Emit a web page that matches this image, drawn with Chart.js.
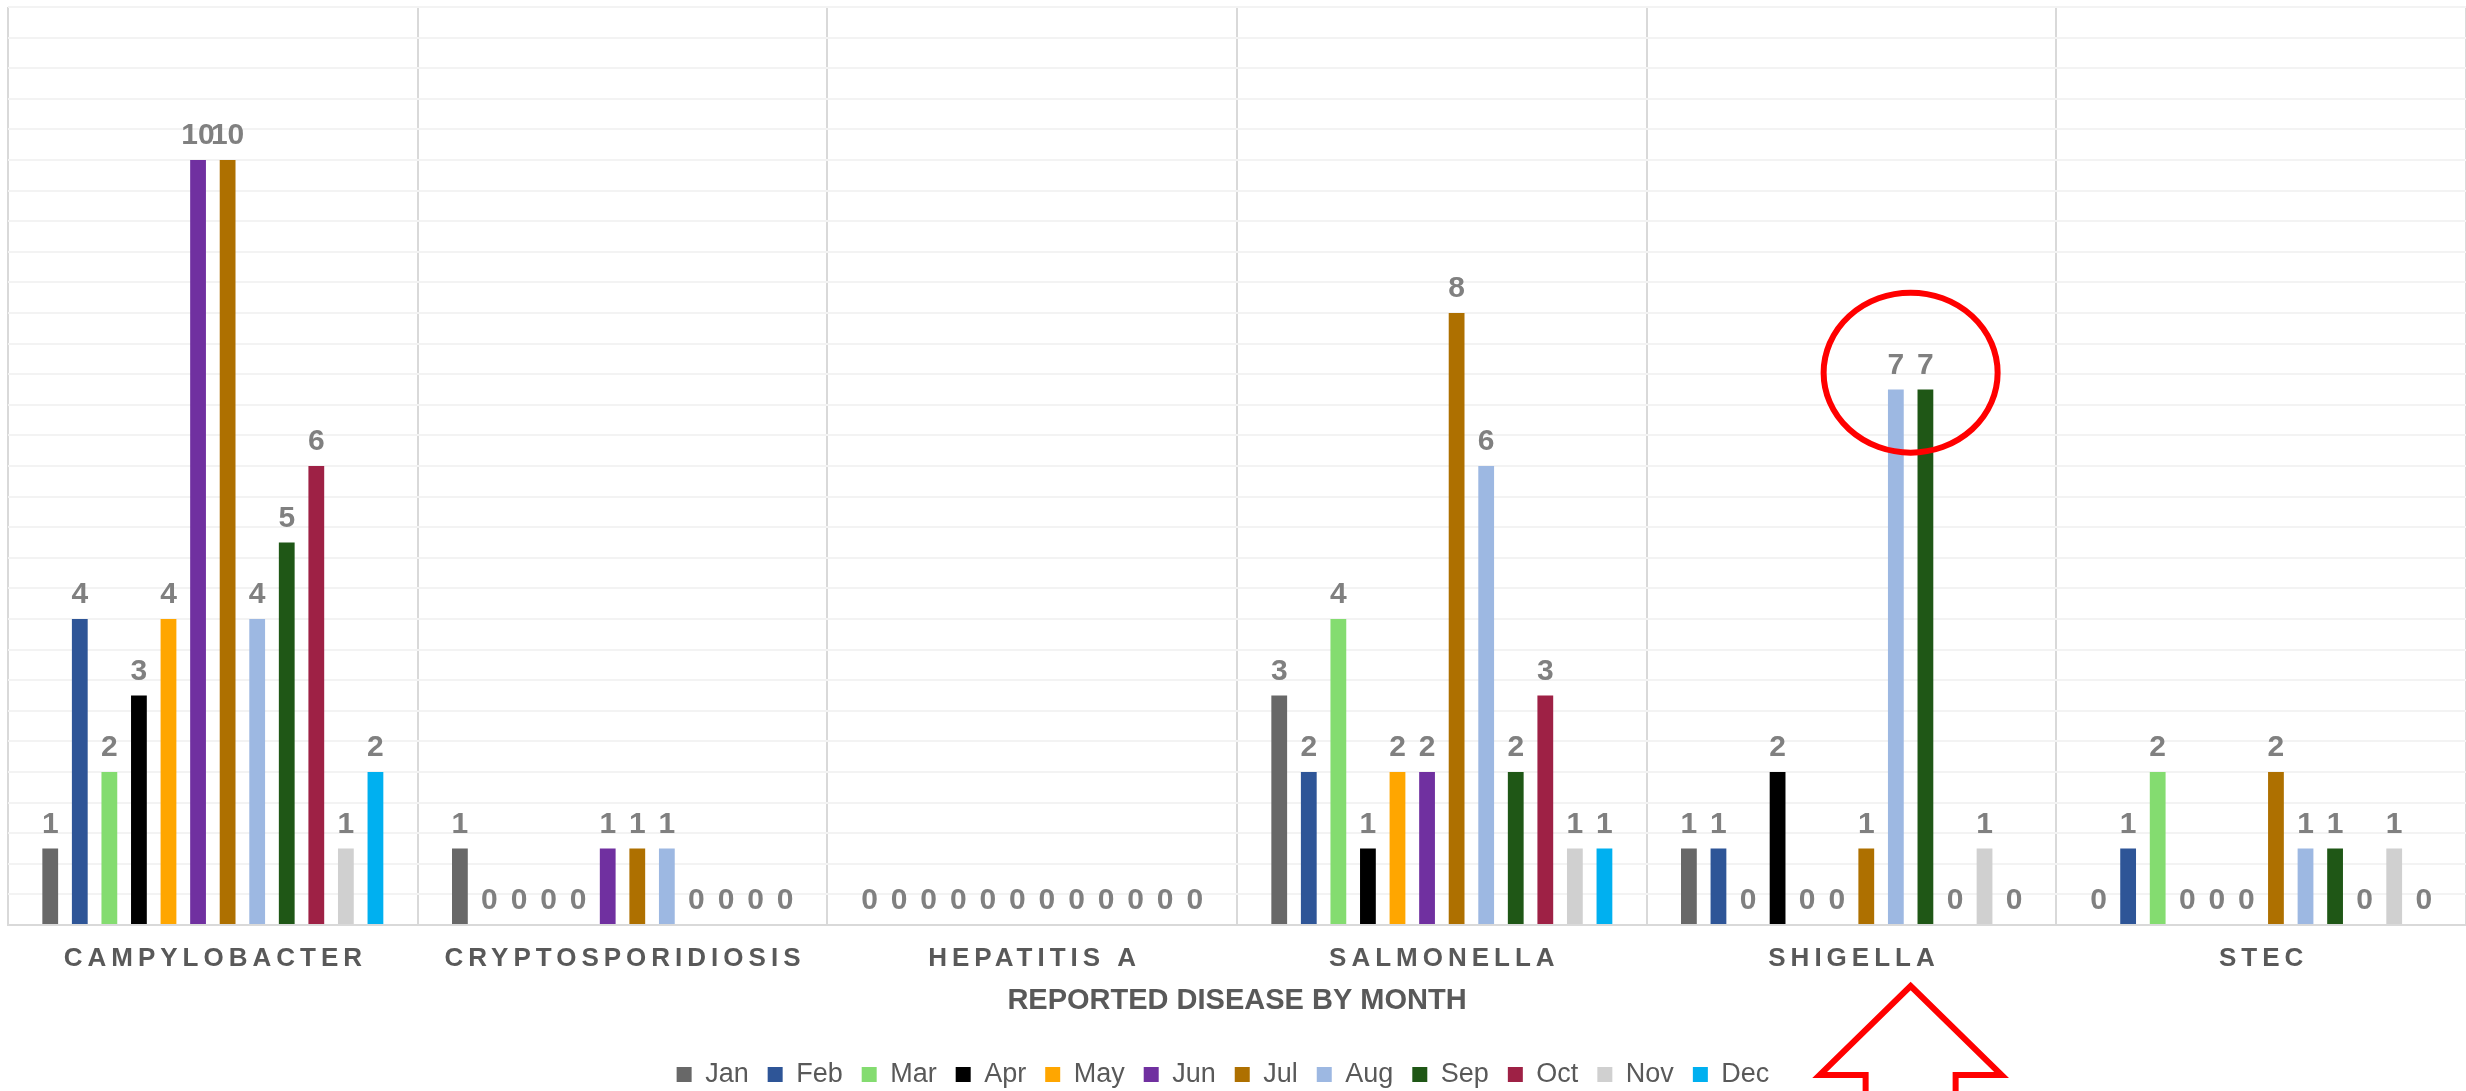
<!DOCTYPE html>
<html>
<head>
<meta charset="utf-8">
<script src="https://cdn.jsdelivr.net/npm/chart.js@4/dist/chart.umd.min.js"></script>
<style>
html,body{margin:0;padding:0;background:#fff;}
#wrap{width:2466px;height:1091px;position:relative;}
</style>
</head>
<body>
<div id="wrap"><canvas id="c" width="2466" height="1091"></canvas></div>
<script>
const categories = ['CAMPYLOBACTER','CRYPTOSPORIDIOSIS','HEPATITIS A','SALMONELLA','SHIGELLA','STEC'];
const months = ['Jan','Feb','Mar','Apr','May','Jun','Jul','Aug','Sep','Oct','Nov','Dec'];
const jan = [1,1,0,3,1,0];
const feb = [4,0,0,2,1,1];
const mar = [2,0,0,4,0,2];
const apr = [3,0,0,1,2,0];
const may = [4,0,0,2,0,0];
const jun = [10,1,0,2,0,0];
const jul = [10,1,0,8,1,2];
const aug = [4,1,0,6,7,1];
const sep = [5,0,0,2,7,1];
const oct = [6,0,0,3,0,0];
const nov = [1,0,0,1,1,1];
const dec = [2,0,0,1,0,0];
const seriesValues = [jan,feb,mar,apr,may,jun,jul,aug,sep,oct,nov,dec];
const monthColors = ['#686868','#2E5597','#84DC70','#000000','#FFA600','#7030A0','#AE7000','#9DB8E2','#1F5716','#9E2145','#D0D0D0','#00B0F0'];
const axisTitle = 'REPORTED DISEASE BY MONTH';

const FONT = "'Liberation Sans', Arial, sans-serif";

const datasets = months.map((m,i)=>({
  label: m,
  data: seriesValues[i],
  backgroundColor: monthColors[i],
  borderWidth: 0,
  categoryPercentage: 0.866,
  barPercentage: 0.534
}));

const valueLabels = {
  id: 'valueLabels',
  afterDatasetsDraw(chart){
    const ctx = chart.ctx;
    ctx.save();
    ctx.font = "bold 30px " + FONT;
    ctx.fillStyle = '#808080';
    ctx.textAlign = 'center';
    ctx.textBaseline = 'alphabetic';
    chart.data.datasets.forEach((ds,di)=>{
      const meta = chart.getDatasetMeta(di);
      meta.data.forEach((bar,j)=>{
        ctx.fillText(String(ds.data[j]), bar.x, bar.y - 16);
      });
    });
    ctx.restore();
  }
};

const spacedLabels = {
  id: 'spacedLabels',
  beforeDraw(chart){
    const s = chart.scales.x;
    if (s && !s._spaced){
      const orig = s.drawLabels.bind(s);
      s.drawLabels = function(area){
        const ctx = chart.ctx;
        ctx.save();
        ctx.letterSpacing = '5px';
        ctx.translate(2.5, 0);
        orig(area);
        ctx.restore();
      };
      s._spaced = true;
    }
  }
};

const legendShift = {
  id: 'legendShift',
  afterLayout(chart){
    const l = chart.legend;
    if (l){ l.top += 7; l.bottom += 7; l.left -= 14; l.right -= 14; }
  }
};

const annotations = {
  id: 'annotations',
  afterDraw(chart){
    const ctx = chart.ctx;
    const y = chart.scales.y;
    const catIdx = 4; // SHIGELLA
    const a = chart.getDatasetMeta(7).data[catIdx];
    const b = chart.getDatasetMeta(8).data[catIdx];
    const cx = (a.x + b.x)/2;
    const cy = y.getPixelForValue(7.22);
    ctx.save();
    ctx.strokeStyle = '#FF0000';
    ctx.lineWidth = 6;
    ctx.beginPath();
    ctx.ellipse(cx, cy, 87, 80, 0, 0, Math.PI*2);
    ctx.stroke();
    const tipY = 986, baseY = 1075, headHalf = 91, shaftHalf = 45, endY = 1110;
    ctx.lineJoin = 'miter';
    ctx.beginPath();
    ctx.moveTo(cx, tipY);
    ctx.lineTo(cx + headHalf, baseY);
    ctx.lineTo(cx + shaftHalf, baseY);
    ctx.lineTo(cx + shaftHalf, endY);
    ctx.lineTo(cx - shaftHalf, endY);
    ctx.lineTo(cx - shaftHalf, baseY);
    ctx.lineTo(cx - headHalf, baseY);
    ctx.closePath();
    ctx.stroke();
    ctx.restore();
  }
};

new Chart(document.getElementById('c'), {
  type: 'bar',
  data: { labels: categories, datasets },
  options: {
    responsive: false,
    animation: false,
    devicePixelRatio: 1,
    layout: { padding: { left: 8, right: 0, top: 7, bottom: 0 } },
    plugins: {
      tooltip: { enabled: false },
      title: { display: false },
      legend: {
        position: 'bottom',
        labels: {
          boxWidth: 15,
          boxHeight: 15,
          padding: 19,
          color: '#595959',
          font: { family: FONT, size: 27 }
        }
      }
    },
    scales: {
      x: {
        grid: { color: '#D9D9D9', lineWidth: 2, drawTicks: false, offset: true },
        border: { display: true, color: '#D9D9D9', width: 2 },
        ticks: {
          color: '#595959',
          font: { family: FONT, size: 26, weight: 'bold' },
          padding: 18,
          autoSkip: false,
          maxRotation: 0
        },
        title: {
          display: true,
          text: axisTitle,
          color: '#595959',
          font: { family: FONT, size: 29, weight: 'bold' },
          padding: { top: 4, bottom: 17 }
        },
        afterFit(scale){ scale.height = 110; }
      },
      y: {
        min: 0,
        max: 12,
        ticks: { display: false, stepSize: 0.4 },
        grid: { color: '#F3F3F3', lineWidth: 2, drawTicks: false },
        border: { display: false }
      }
    }
  },
  plugins: [valueLabels, spacedLabels, legendShift, annotations]
});
</script>
</body>
</html>
